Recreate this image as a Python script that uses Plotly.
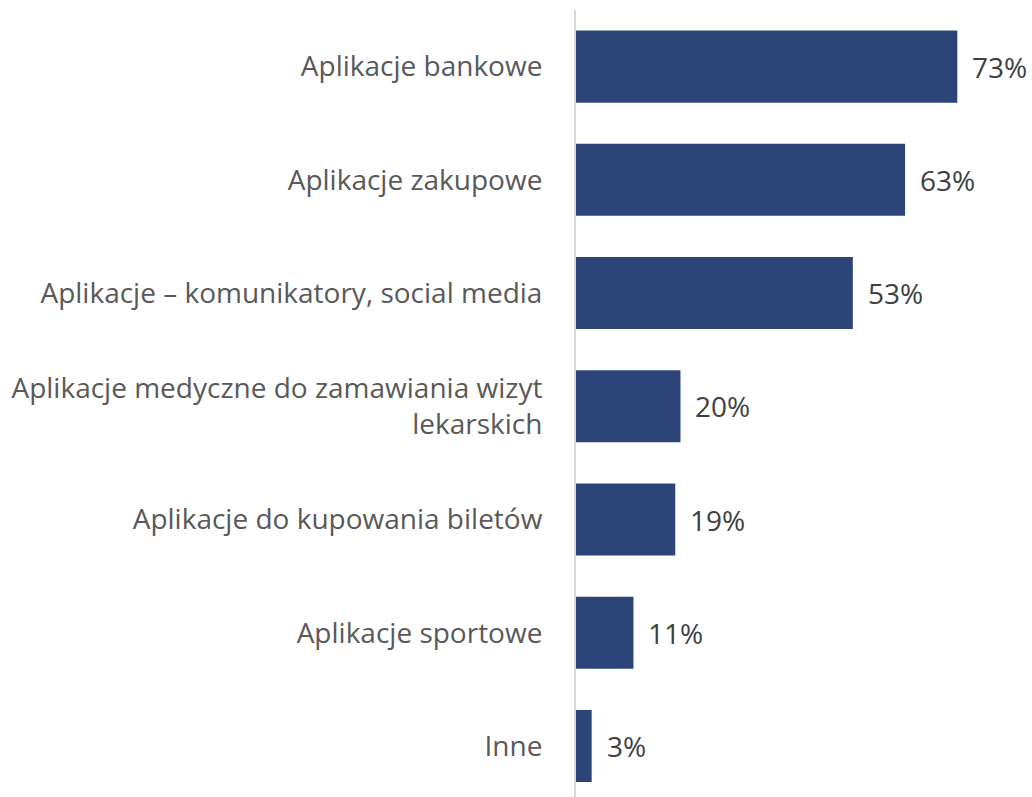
import plotly.graph_objects as go

categories = [
    "Aplikacje bankowe",
    "Aplikacje zakupowe",
    "Aplikacje – komunikatory, social media",
    "Aplikacje medyczne do zamawiania wizyt<br>lekarskich",
    "Aplikacje do kupowania biletów",
    "Aplikacje sportowe",
    "Inne",
]
values = [73, 63, 53, 20, 19, 11, 3]
value_labels = [f"{v}%" for v in values]

BAR_COLOR = "#2C4478"
FONT = "Open Sans"

fig = go.Figure(
    go.Bar(
        x=values,
        y=categories,
        orientation="h",
        marker=dict(color=BAR_COLOR, line=dict(width=0)),
        hoverinfo="skip",
    )
)

# value labels placed just to the right of each bar end
for cat, v, lab in zip(categories, values, value_labels):
    fig.add_annotation(
        x=v, y=cat, text=lab, showarrow=False,
        xanchor="left", yanchor="middle", xshift=13,
        font=dict(family=FONT, size=28, color="#404040"),
    )

fig.update_layout(
    width=1032,
    height=797,
    margin=dict(l=576, r=0, t=10, b=0),
    paper_bgcolor="white",
    plot_bgcolor="white",
    bargap=0.364,
    showlegend=False,
    xaxis=dict(
        range=[0, 87.3],
        showgrid=False, zeroline=False, showline=False,
        showticklabels=False, ticks="",
    ),
    yaxis=dict(
        range=[6.45, -0.5],
        showgrid=False, zeroline=False,
        showline=True, linecolor="#D9D9D9", linewidth=2,
        ticks="", ticklabelstandoff=26,
        tickfont=dict(family=FONT, size=28, color="#595959"),
    ),
)

fig.write_html("out.html")
